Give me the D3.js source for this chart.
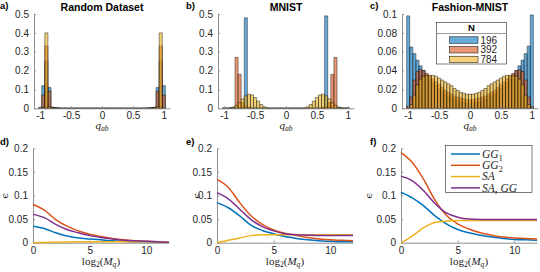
<!DOCTYPE html>
<html>
<head>
<meta charset="utf-8">
<script src="https://cdn.jsdelivr.net/npm/d3@7"></script>
<style>
body { margin: 0; background: #fff; }
svg { display: block; font-family: "Liberation Sans", Arial, sans-serif; }
</style>
</head>
<body>
<svg width="540" height="272"></svg>
<script>
var svg = d3.select("svg");

// histogram bins: centres -1, -0.95, ..., 1
var binCenters = d3.range(41).map(function(i) { return Math.round((-1 + i * 0.05) * 100) / 100; });
var binWidth = 0.05;
var histNames = ["196", "392", "784"];
var histColors = ["#0072BD", "#D95319", "#EDB120"];

// a) Random Dataset
var randomN196 = [0.003,0.12,0.25,0.11,0.004,0.002,0.001,
  0,0,0,0,0,0,0,0,0,0,0,0,0,0,0,0,0,0,0,0,0,0,0,0,0,0,0,0,
  0.001,0.002,0.004,0.11,0.25,0.12,0.003];
var randomN392 = [0.002,0.07,0.33,0.09,0.006,0.003,0.002,
  0,0,0,0,0,0,0,0,0,0,0,0,0,0,0,0,0,0,0,0,0,0,0,0,0,0,0,0,
  0.002,0.003,0.006,0.09,0.33,0.07,0.002];
var randomN784 = [0,0.005,0.40,0.01,0.003,0.002,0.001,
  0,0,0,0,0,0,0,0,0,0,0,0,0,0,0,0,0,0,0,0,0,0,0,0,0,0,0,0,
  0.001,0.002,0.003,0.01,0.40,0.005,0];

// b) MNIST
var mnistN196 = [0.002,0,0,0,0.002,0.004,0.008,0.48,0.006,0.002,
  0,0,0,0,0,0,0,0,0,0,0,0,0,0,0,0,0,0,0,0,0,
  0.002,0.006,0.49,0.008,0.004,0.002,0,0,0,0.002];
var mnistN392 = [0,0.001,0.002,0.005,0.27,0.18,0.03,0.01,0.003,0.001,
  0,0,0,0,0,0,0,0,0,0,0,0,0,0,0,0,0,0,0,0,0,
  0.001,0.003,0.01,0.03,0.18,0.27,0.005,0.002,0.001,0];
var mnistN784 = [0,0,0.002,0.006,0.016,0.03,0.05,0.066,0.075,0.071,0.057,0.038,0.02,0.008,0.002,
  0,0,0,0,0,0,0,0,0,0,0,
  0.002,0.008,0.02,0.038,0.057,0.071,0.075,0.066,0.05,0.03,0.016,0.006,0.002,0,0];

// c) Fashion-MNIST
var fashionN196 = [0.098,0.065,0.058,0.051,0.045,0.04,0.035,0.031,0.027,0.024,0.021,
  0.018,0.015,0.013,0.011,0.009,0.008,0.007,0.006,0.006,0.006,0.006,0.006,0.007,0.008,
  0.009,0.011,0.013,0.015,0.018,0.021,0.024,0.027,0.031,0.035,0.04,0.045,0.051,0.058,0.066,0.099];
var fashionN392 = [0.002,0.012,0.03,0.039,0.041,0.04,0.037,0.034,0.031,0.028,0.025,
  0.022,0.019,0.017,0.015,0.013,0.012,0.011,0.01,0.009,0.009,0.009,0.01,0.011,0.012,
  0.013,0.015,0.017,0.019,0.022,0.025,0.028,0.031,0.034,0.037,0.04,0.041,0.039,0.03,0.012,0.002];
var fashionN784 = [0,0.004,0.014,0.025,0.031,0.034,0.035,0.035,0.035,0.034,0.032,
  0.03,0.028,0.026,0.024,0.021,0.019,0.017,0.016,0.015,0.015,0.015,0.016,0.017,0.019,
  0.021,0.024,0.026,0.028,0.03,0.032,0.034,0.035,0.035,0.035,0.034,0.031,0.025,0.014,0.004,0];

var histXTicks = [-1, -0.5, 0, 0.5, 1];
var histYTicksAB = [0, 0.1, 0.2, 0.3, 0.4, 0.5];
var histYTicksC = [0, 0.02, 0.04, 0.06, 0.08, 0.1];

// error curves vs log2(Mq)
var logM = d3.range(13);
var lineNames = ["GG1", "GG2", "SA", "SAGG"];
var lineColors = ["#0072BD", "#D95319", "#EDB120", "#7E2F8E"];

var randomGG1  = [0.035,0.030,0.021,0.014,0.010,0.008,0.006,0.004,0.003,0.002,0.002,0.001,0.001];
var randomGG2  = [0.081,0.069,0.049,0.035,0.025,0.018,0.013,0.009,0.006,0.004,0.003,0.002,0.001];
var randomSA   = [0,0.0005,0.001,0.0015,0.002,0.002,0.002,0.002,0.002,0.002,0.002,0.002,0.002];
var randomSAGG = [0.060,0.053,0.039,0.028,0.021,0.015,0.011,0.008,0.005,0.004,0.003,0.002,0.001];

var mnistGG1  = [0.085,0.074,0.057,0.037,0.026,0.019,0.013,0.009,0.006,0.004,0.003,0.002,0.002];
var mnistGG2  = [0.134,0.117,0.085,0.057,0.039,0.027,0.020,0.015,0.011,0.008,0.006,0.005,0.004];
var mnistSA   = [0,0.005,0.010,0.015,0.017,0.017,0.017,0.017,0.017,0.017,0.017,0.017,0.017];
var mnistSAGG = [0.106,0.093,0.071,0.049,0.034,0.025,0.019,0.017,0.016,0.015,0.015,0.015,0.015];

var fashionGG1  = [0.107,0.095,0.078,0.057,0.040,0.028,0.021,0.016,0.012,0.009,0.007,0.006,0.005];
var fashionGG2  = [0.191,0.170,0.134,0.090,0.058,0.040,0.029,0.021,0.016,0.012,0.010,0.009,0.008];
var fashionSA   = [0,0.014,0.032,0.043,0.046,0.047,0.047,0.047,0.047,0.047,0.047,0.047,0.047];
var fashionSAGG = [0.141,0.131,0.110,0.083,0.063,0.054,0.050,0.049,0.049,0.049,0.049,0.049,0.049];

var lineXTicks = [0, 5, 10];
var lineYTicks = [0, 0.05, 0.1, 0.15, 0.2];

var textColor = "#262626";
var serif = "'Liberation Serif', 'Times New Roman', serif";

function styleAxis(g) {
  g.select(".domain").attr("stroke", "#8f8f8f").attr("stroke-width", 1);
  g.selectAll(".tick line").attr("stroke", "#8f8f8f");
  g.selectAll(".tick text").attr("fill", textColor).style("font-size", "10px")
    .style("font-family", "'Liberation Sans', Arial, sans-serif");
}

function drawAxes(x, y, xticks, yticks) {
  var xr = x.range(), yr = y.range();
  svg.append("g")
    .attr("transform", "translate(0," + yr[0] + ")")
    .call(d3.axisBottom(x).tickValues(xticks).tickFormat(String).tickSizeInner(-2).tickSizeOuter(0).tickPadding(4))
    .call(styleAxis);
  svg.append("g")
    .attr("transform", "translate(" + xr[0] + ",0)")
    .call(d3.axisLeft(y).tickValues(yticks).tickFormat(String).tickSizeInner(-2).tickSizeOuter(0).tickPadding(5))
    .call(styleAxis);
}

// subscripted math label: parts = [[text, italic, sub]]
function mathText(sel, parts, size) {
  var t = sel.attr("font-family", serif).style("font-size", size + "px").attr("fill", textColor);
  var down = false;
  parts.forEach(function(p) {
    var s = t.append("tspan").text(p[0]).attr("font-style", p[1] ? "italic" : "normal");
    if (p[2] && !down) { s.attr("dy", size * 0.25).style("font-size", (size * 0.7) + "px"); down = true; }
    else if (p[2]) { s.style("font-size", (size * 0.7) + "px"); }
    else if (down) { s.attr("dy", -size * 0.25); down = false; }
  });
  return t;
}

function panelLabel(x, y, s) {
  svg.append("text").attr("x", x).attr("y", y).text(s)
    .attr("fill", "#000").style("font-size", "9.5px").style("font-weight", "bold");
}

// ---------- top row: histograms ----------
var histPanels = [
  {left: 34, label: "a)", title: "Random Dataset", series: [randomN196, randomN392, randomN784], ymax: 0.5, yticks: histYTicksAB},
  {left: 218, label: "b)", title: "MNIST", series: [mnistN196, mnistN392, mnistN784], ymax: 0.5, yticks: histYTicksAB},
  {left: 402, label: "c)", title: "Fashion-MNIST", series: [fashionN196, fashionN392, fashionN784], ymax: 0.1, yticks: histYTicksC}
];

histPanels.forEach(function(p) {
  var x = d3.scaleLinear().domain([-1.1, 1.1]).range([p.left, p.left + 136]);
  var y = d3.scaleLinear().domain([0, p.ymax]).range([108.3, 14]);

  p.series.forEach(function(vals, k) {
    svg.append("g").selectAll("path")
      .data(vals)
      .enter()
      .append("path")
      .attr("d", function(v, i) {
        var x0 = x(binCenters[i] - binWidth / 2), x1 = x(binCenters[i] + binWidth / 2);
        return "M" + x0 + "," + y(0) + "V" + y(v) + "H" + x1 + "V" + y(0) + "Z";
      })
      .attr("fill", histColors[k])
      .attr("fill-opacity", 0.6)
      .attr("stroke", "#000")
      .attr("stroke-opacity", 0.85)
      .attr("stroke-width", 0.5);
  });

  drawAxes(x, y, histXTicks, p.yticks);

  svg.append("text").attr("x", p.left + 68).attr("y", 10.5).attr("text-anchor", "middle")
    .text(p.title).attr("fill", "#000").style("font-size", "10.5px").style("font-weight", "bold");
  panelLabel(p.left - 34 + (p.left > 34 ? 2 : 0), 9, p.label);

  mathText(svg.append("text").attr("x", p.left + 68).attr("y", 128.5).attr("text-anchor", "middle"),
    [["q", true, false], ["ab", true, true]], 11);
});

// histogram legend (panel c)
var hl = svg.append("g");
hl.append("rect").attr("x", 436.5).attr("y", 22.5).attr("width", 70).attr("height", 41.5)
  .attr("fill", "#fff").attr("stroke", "#262626").attr("stroke-width", 0.6);
hl.append("line").attr("x1", 436.5).attr("x2", 506.5).attr("y1", 33.5).attr("y2", 33.5)
  .attr("stroke", "#9a9a9a").attr("stroke-width", 1.2);
hl.append("text").attr("x", 471.5).attr("y", 31).attr("text-anchor", "middle").text("N")
  .attr("fill", "#000").style("font-size", "9.5px").style("font-weight", "bold");
histNames.forEach(function(name, k) {
  var cy = 40 + k * 9.7;
  hl.append("rect").attr("x", 449.5).attr("y", cy - 3.2).attr("width", 28.5).attr("height", 6.5)
    .attr("fill", histColors[k]).attr("fill-opacity", 0.6).attr("stroke", "#000").attr("stroke-width", 0.5);
  hl.append("text").attr("x", 480.5).attr("y", cy + 3.5).text(name)
    .attr("fill", textColor).style("font-size", "10px");
});

// ---------- bottom row: error curves ----------
var linePanels = [
  {left: 33, label: "d)", series: [randomGG1, randomGG2, randomSA, randomSAGG], elab: 8},
  {left: 217, label: "e)", series: [mnistGG1, mnistGG2, mnistSA, mnistSAGG], elab: 200},
  {left: 401, label: "f)", series: [fashionGG1, fashionGG2, fashionSA, fashionSAGG], elab: 372}
];

linePanels.forEach(function(p) {
  var x = d3.scaleLinear().domain([0, 12]).range([p.left, p.left + 136]);
  var y = d3.scaleLinear().domain([0, 0.2]).range([242.7, 148.3]);

  drawAxes(x, y, lineXTicks, lineYTicks);

  var line = d3.line()
    .x(function(d, i) { return x(logM[i]); })
    .y(function(d) { return y(d); })
    .curve(d3.curveMonotoneX);

  p.series.forEach(function(vals, k) {
    svg.append("path").datum(vals).attr("d", line)
      .attr("fill", "none").attr("stroke", lineColors[k]).attr("stroke-width", 1.5);
  });

  panelLabel(p.left - 33 + (p.left > 33 ? 2 : 0), 145, p.label);

  mathText(svg.append("text").attr("x", p.left + 68).attr("y", 264.5).attr("text-anchor", "middle"),
    [["log", false, false], ["2", false, true], ["(", false, false], ["M", true, false], ["q", true, true], [")", false, false]], 11);

  svg.append("text").attr("transform", "translate(" + p.elab + ",196) rotate(-90)")
    .attr("text-anchor", "middle").text("ϵ")
    .attr("font-family", "'DejaVu Serif', serif").style("font-size", "10px").attr("fill", textColor);
});

// line legend (panel f)
var ll = svg.append("g");
ll.append("rect").attr("x", 445.5).attr("y", 145.5).attr("width", 86.5).attr("height", 47)
  .attr("fill", "#fff").attr("stroke", "#262626").attr("stroke-width", 0.6);
var legendLabels = [
  [["GG", true, false], ["1", false, true]],
  [["GG", true, false], ["2", false, true]],
  [["SA", true, false]],
  [["SA, GG", true, false]]
];
lineNames.forEach(function(name, k) {
  var cy = 154 + k * 11.3;
  ll.append("line").attr("x1", 451).attr("x2", 480).attr("y1", cy).attr("y2", cy)
    .attr("stroke", lineColors[k]).attr("stroke-width", 1.5);
  mathText(ll.append("text").attr("x", 482).attr("y", cy + 3.8), legendLabels[k], 11.5);
});
</script>
</body>
</html>
